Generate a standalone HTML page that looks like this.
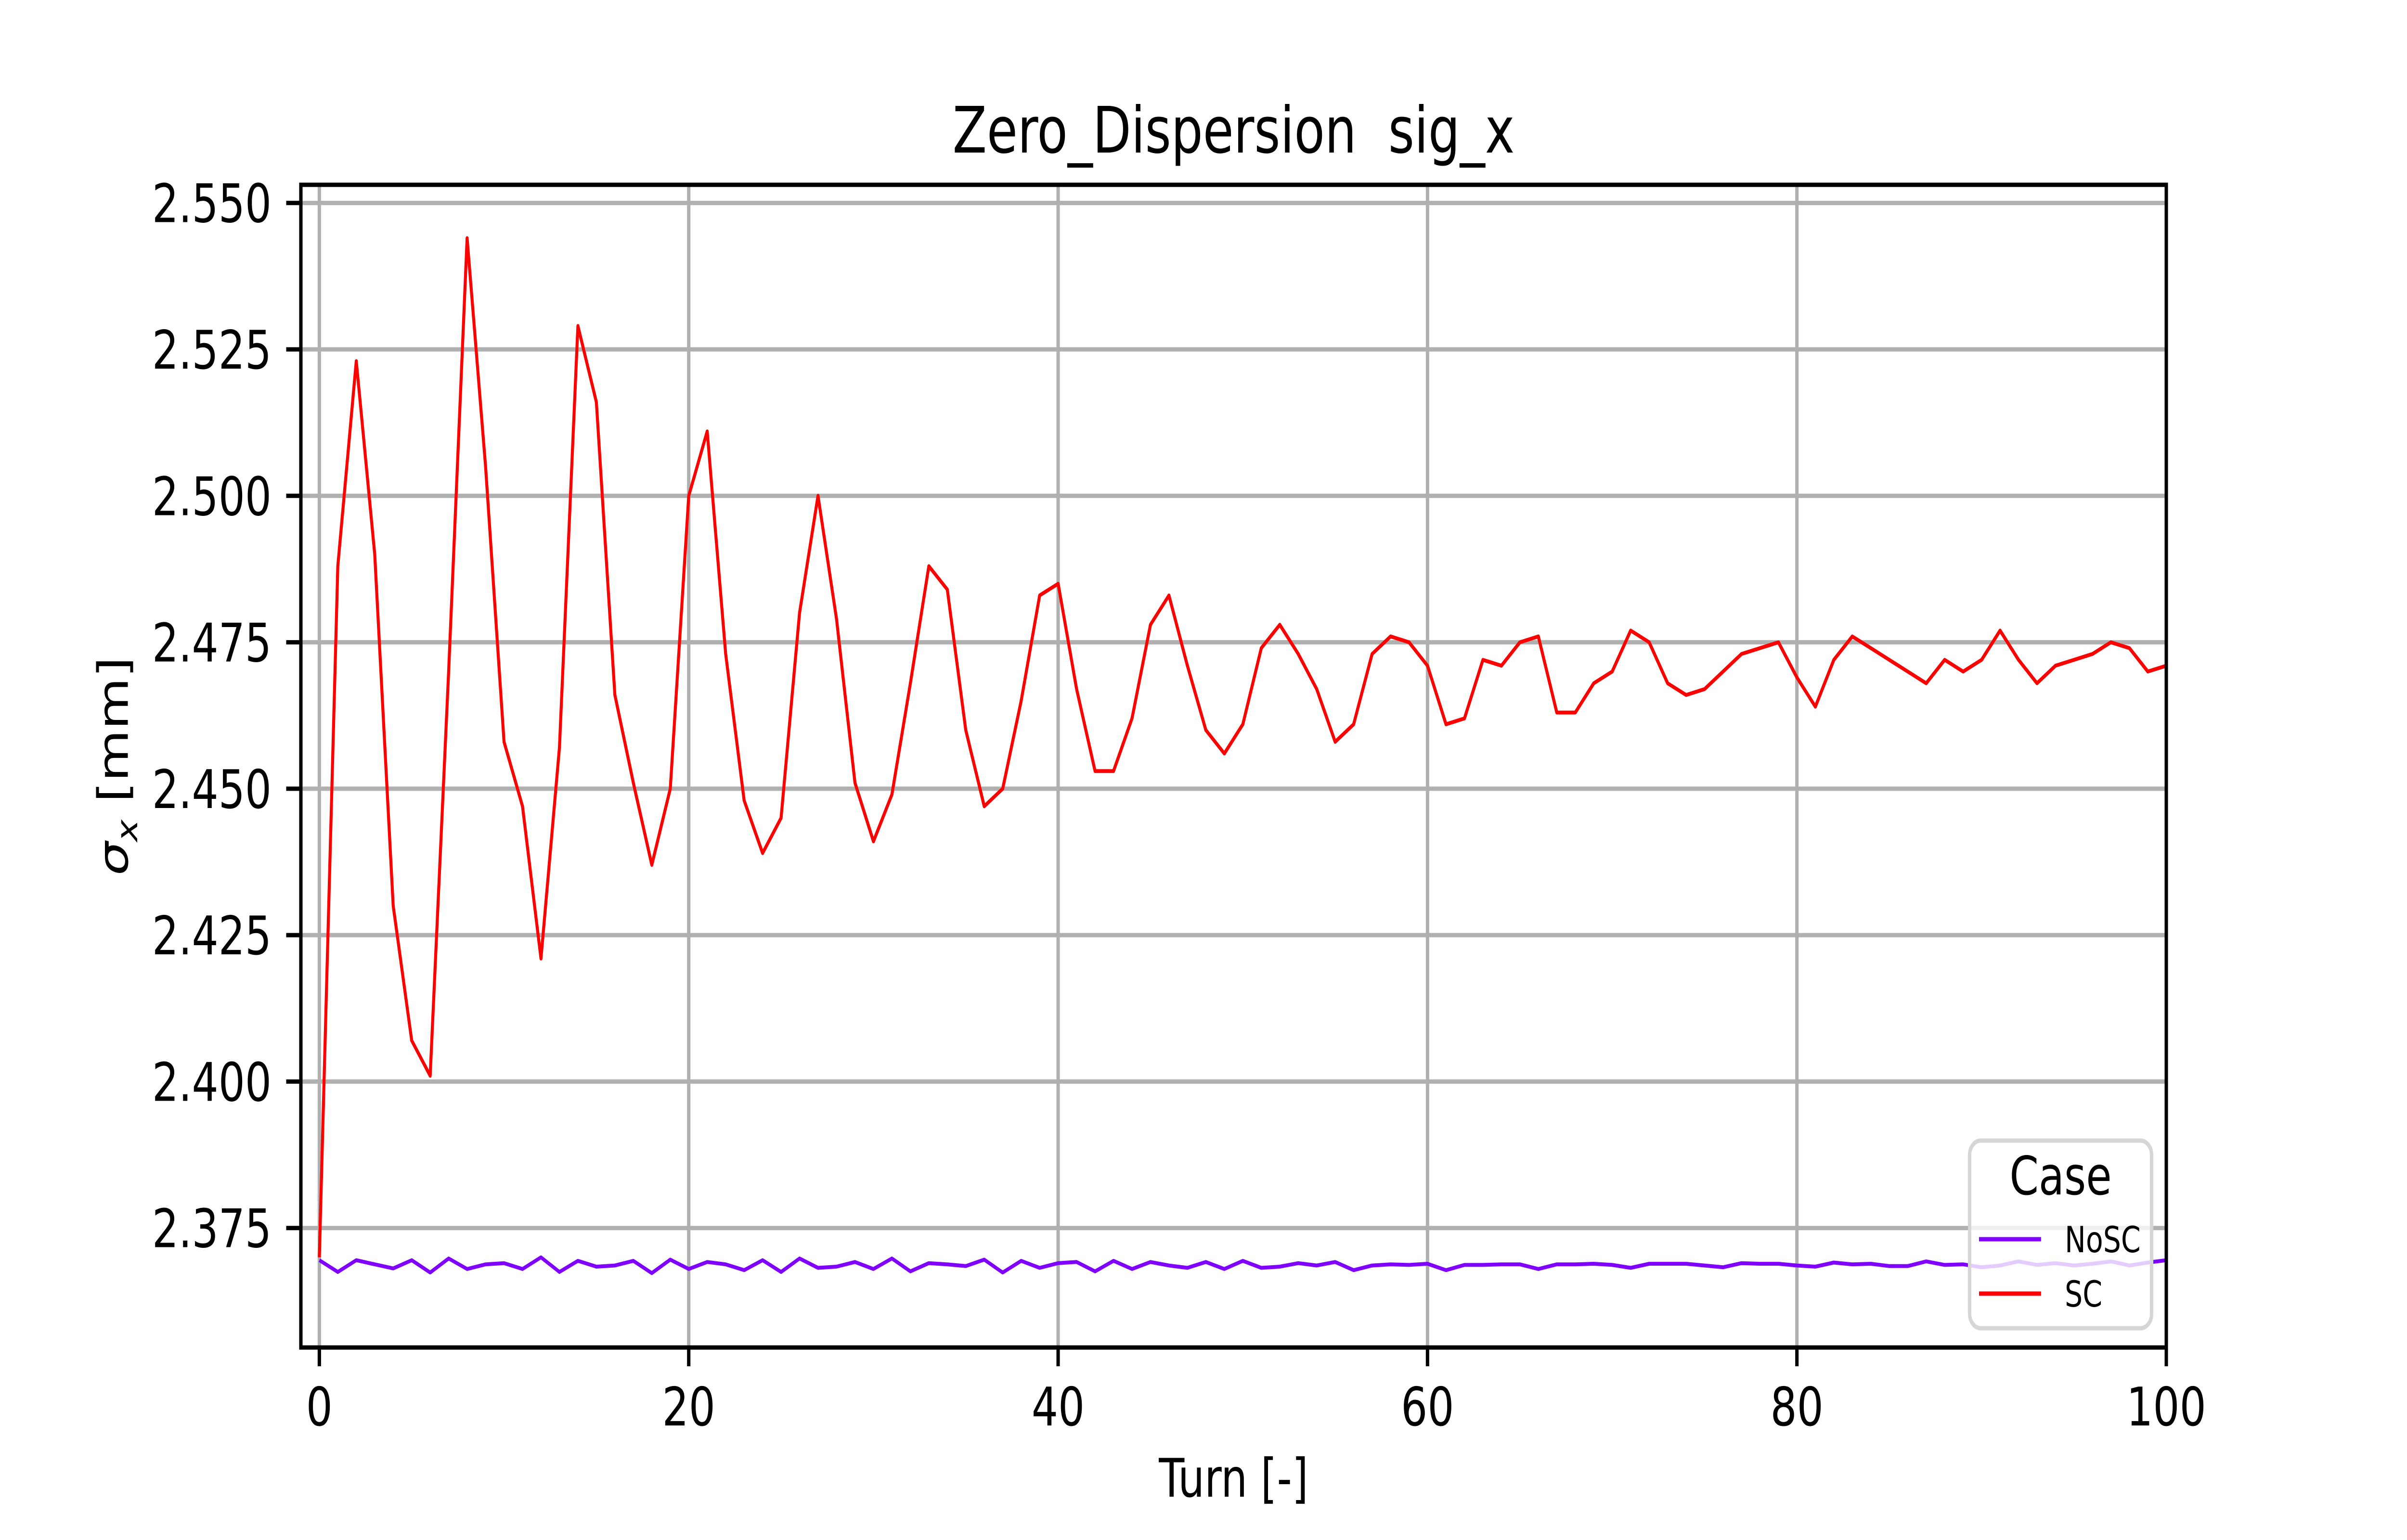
<!DOCTYPE html>
<html><head><meta charset="utf-8"><style>html,body{margin:0;padding:0;background:#fff;overflow:hidden;width:100vw;height:100vh}svg{display:block;width:100vw;height:100vh}</style></head>
<body>
<svg id="chart" viewBox="0 0 6400 3200" preserveAspectRatio="none" xmlns="http://www.w3.org/2000/svg" font-family="DejaVu Sans, Liberation Sans, sans-serif">
<rect x="0" y="0" width="6400" height="3200" fill="#fff"/>
<g id="grid"></g>
<g id="series"></g>
<g id="axes"></g>
<text x="3280" y="317" font-size="133" text-anchor="middle" xml:space="preserve">Zero_Dispersion  sig_x</text>
<text x="3280" y="3110" font-size="111" text-anchor="middle">Turn [-]</text>
<text transform="translate(340,1592) rotate(-90)" font-size="111" text-anchor="middle"><tspan font-style="italic">σ</tspan><tspan font-style="italic" font-size="78" dy="25">x</tspan><tspan dy="-25"> [mm]</tspan></text>
<g id="legend">
<rect x="5237" y="2370" width="484" height="390" rx="30" fill="#fff" fill-opacity="0.8" stroke="#d6d6d6" stroke-width="9"/>
<text x="5479" y="2482" font-size="111" text-anchor="middle">Case</text>
<line x1="5262" y1="2575" x2="5427" y2="2575" stroke="#7f00ff" stroke-width="9"/>
<text x="5490" y="2602" font-size="75">NoSC</text>
<line x1="5262" y1="2688" x2="5427" y2="2688" stroke="#ff0000" stroke-width="9"/>
<text x="5490" y="2715" font-size="75">SC</text>
</g>
</svg>
<script>
const turns = Array.from({length:101},(_,i)=>i);
const scValues = [2.370,2.488,2.523,2.490,2.430,2.407,2.401,2.470,2.544,2.505,
2.458,2.447,2.421,2.457,2.529,2.516,2.466,2.451,2.437,2.450,
2.500,2.511,2.473,2.448,2.439,2.445,2.480,2.500,2.479,2.451,
2.441,2.449,2.468,2.488,2.484,2.460,2.447,2.450,2.465,2.483,
2.485,2.467,2.453,2.453,2.462,2.478,2.483,2.471,2.460,2.456,
2.461,2.474,2.478,2.473,2.467,2.458,2.461,2.473,2.476,2.475,
2.471,2.461,2.462,2.472,2.471,2.475,2.476,2.463,2.463,2.468,
2.470,2.477,2.475,2.468,2.466,2.467,2.470,2.473,2.474,2.475,
2.469,2.464,2.472,2.476,2.474,2.472,2.470,2.468,2.472,2.470,
2.472,2.477,2.472,2.468,2.471,2.472,2.473,2.475,2.474,2.470,2.471];
const noscValues = [2.3695,2.3675,2.3695,2.3688,2.3681,2.3695,2.3674,2.3698,2.3680,2.3688,
2.3690,2.3680,2.3700,2.3675,2.3694,2.3684,2.3686,2.3694,2.3673,2.3696,
2.3680,2.3692,2.3688,2.3678,2.3695,2.3675,2.3698,2.3682,2.3684,2.3692,
2.3680,2.3698,2.3676,2.3690,2.3688,2.3685,2.3696,2.3674,2.3694,2.3682,
2.3690,2.3692,2.3676,2.3694,2.3680,2.3692,2.3686,2.3682,2.3692,2.3680,
2.3694,2.3682,2.3684,2.3690,2.3686,2.3692,2.3678,2.3686,2.3688,2.3687,
2.3689,2.3678,2.3687,2.3687,2.3688,2.3688,2.3680,2.3688,2.3688,2.3689,
2.3687,2.3682,2.3689,2.3689,2.3689,2.3686,2.3683,2.3690,2.3689,2.3689,
2.3686,2.3684,2.3691,2.3688,2.3689,2.3685,2.3685,2.3693,2.3687,2.3688,
2.3683,2.3686,2.3693,2.3687,2.3690,2.3686,2.3689,2.3693,2.3686,2.3691,2.3695];
const xTicks = [0,20,40,60,80,100];
const yTicks = [2.375,2.400,2.425,2.450,2.475,2.500,2.525,2.550];
const yTickLabels = ["2.375","2.400","2.425","2.450","2.475","2.500","2.525","2.550"];

const L=800,R=5760,T=384,B=2800;
const xMin=-1,xMax=100,yMin=2.3546,yMax=2.5531;
const xs=v=>L+(v-xMin)/(xMax-xMin)*(R-L);
const ys=v=>B-(v-yMin)/(yMax-yMin)*(B-T);
const NS='http://www.w3.org/2000/svg';
function mk(tag,attrs,parent){const e=document.createElementNS(NS,tag);for(const k in attrs)e.setAttribute(k,attrs[k]);parent.appendChild(e);return e;}
const grid=document.getElementById('grid'),axes=document.getElementById('axes'),series=document.getElementById('series');
xTicks.forEach(t=>{
  const g=mk('line',{x1:xs(t),x2:xs(t),y1:T,y2:B,stroke:'#b0b0b0','stroke-width':9},grid);
  
  
  const tk=mk('line',{x1:xs(t),x2:xs(t),y1:B,y2:B+39,stroke:'#000','stroke-width':9},axes);
  
  
  const tx=mk('text',{x:xs(t),y:2962,'font-size':111,'text-anchor':'middle'},axes);
  tx.textContent=String(t);
  
  
});
yTicks.forEach((t,i)=>{
  const g=mk('line',{x1:L,x2:R,y1:ys(t),y2:ys(t),stroke:'#b0b0b0','stroke-width':9},grid);
  
  
  const tk=mk('line',{x1:L-39,x2:L,y1:ys(t),y2:ys(t),stroke:'#000','stroke-width':9},axes);
  
  
  const tx=mk('text',{x:722,y:ys(t)+40,'font-size':111,'text-anchor':'end'},axes);
  tx.textContent=yTickLabels[i];
  
  
});
const frame=mk('rect',{x:L,y:T,width:R-L,height:B-T,fill:'none',stroke:'#000','stroke-width':9},axes);


function line(vals,color,name){
  const d=vals.map((v,i)=>(i?'L':'M')+xs(turns[i]).toFixed(1)+' '+ys(v).toFixed(1)).join(' ');
  const p=mk('path',{d:d,fill:'none',stroke:color,'stroke-width':8,'stroke-linejoin':'round'},series);
  
  
}
const cp=mk('clipPath',{id:'clip'},document.getElementById('chart'));
mk('rect',{x:L,y:T,width:R-L,height:B-T},cp);
series.setAttribute('clip-path','url(#clip)');
line(noscValues,'#7f00ff','series-line-nosc');
line(scValues,'#ff0000','series-line-sc');
</script>
</body></html>
